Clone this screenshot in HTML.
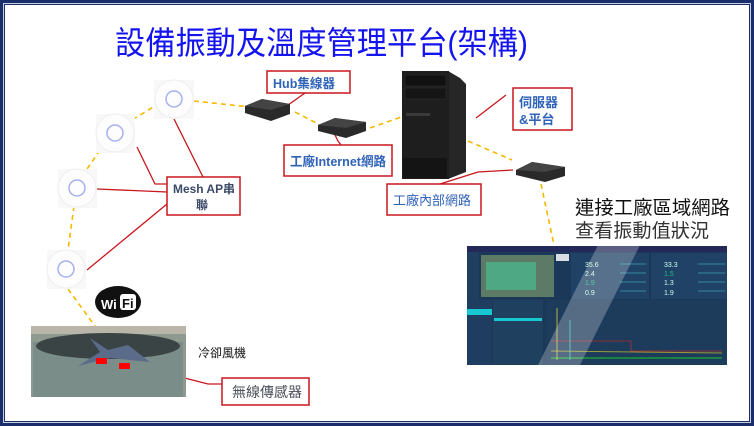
<!DOCTYPE html>
<html><head><meta charset="utf-8"><style>
html,body{margin:0;padding:0;background:#fff}
svg{display:block}
.t{font-family:"Liberation Sans","Noto Sans CJK TC",sans-serif}
</style></head><body>
<svg width="754" height="426" viewBox="0 0 754 426" xmlns="http://www.w3.org/2000/svg" class="t">
<rect x="0" y="0" width="754" height="426" fill="#1b2d6b"/>
<rect x="3" y="3" width="748" height="420" fill="#c8d0e0"/>
<rect x="4" y="4" width="746" height="418" fill="#1b2d6b"/>
<rect x="5" y="5" width="744" height="416" fill="#fff"/>

<text x="115" y="54" font-size="32" fill="#1414ee" textLength="413" lengthAdjust="spacingAndGlyphs">設備振動及溫度管理平台(架構)</text>

<!-- dashed orange lines -->
<g stroke="#f5b800" stroke-width="1.6" stroke-dasharray="5,4" fill="none">
<line x1="194" y1="101" x2="250" y2="107"/>
<line x1="160" y1="103" x2="130" y2="121"/>
<line x1="100" y1="150" x2="85" y2="172"/>
<line x1="74" y1="206" x2="68" y2="250"/>
<line x1="68" y1="289" x2="124" y2="366"/>
<line x1="295" y1="112" x2="322" y2="126"/>
<line x1="370" y1="128" x2="410" y2="114"/>
<line x1="468" y1="141" x2="512" y2="160"/>
<line x1="541" y1="184" x2="554" y2="245"/>
</g>

<!-- red connectors -->
<g stroke="#c8161d" stroke-width="1.3" fill="none">
<line x1="305" y1="93" x2="281" y2="110"/>
<polyline points="341,145 338,141 333,131"/>
<line x1="506" y1="95" x2="476" y2="118"/>
<polyline points="440,184 478,172 513,170"/>
<line x1="203" y1="177" x2="174" y2="119"/>
<polyline points="167,184 155,184 137,147"/>
<line x1="167" y1="192" x2="97" y2="189"/>
<line x1="167" y1="204" x2="87" y2="270"/>
<polyline points="130,364 208,384 222,384"/>
</g>

<!-- AP circles -->
<g>
<rect x="154" y="80" width="40" height="39" fill="#f8f8f8"/>
<circle cx="174" cy="99" r="19" fill="#fdfdfd" stroke="#eee"/>
<circle cx="174" cy="99" r="8" fill="none" stroke="#a6b0f0" stroke-width="1.5"/>
<rect x="96" y="114" width="39" height="39" fill="#f8f8f8"/>
<circle cx="115" cy="133" r="19" fill="#fdfdfd" stroke="#eee"/>
<circle cx="115" cy="133" r="8" fill="none" stroke="#a6b0f0" stroke-width="1.5"/>
<rect x="58" y="169" width="39" height="39" fill="#f8f8f8"/>
<circle cx="77" cy="188" r="19" fill="#fdfdfd" stroke="#eee"/>
<circle cx="77" cy="188" r="8" fill="none" stroke="#a6b0f0" stroke-width="1.5"/>
<rect x="47" y="250" width="39" height="39" fill="#f8f8f8"/>
<circle cx="66" cy="269" r="19" fill="#fdfdfd" stroke="#eee"/>
<circle cx="66" cy="269" r="8" fill="none" stroke="#a6b0f0" stroke-width="1.5"/>
</g>

<!-- switches -->
<g>
<polygon points="245,106 262,99 290,104 290,114 271,121 245,113" fill="#2a2a2a"/>
<polygon points="245,106 262,99 290,104 271,110" fill="#444"/>
<polygon points="318,125 335,118 366,122 366,131 346,138 318,131" fill="#2a2a2a"/>
<polygon points="318,125 335,118 366,122 346,128" fill="#444"/>
<polygon points="516,170 532,162 565,167 565,176 545,182 516,175" fill="#2a2a2a"/>
<polygon points="516,170 532,162 565,167 545,172" fill="#444"/>
</g>

<!-- server -->
<g>
<polygon points="448,71 460,78 466,84 466,172 448,179" fill="#262626"/>
<rect x="402" y="71" width="47" height="108" fill="#1e1e1e"/>
<rect x="405" y="75" width="41" height="11" fill="#111" stroke="#333" stroke-width="0.5"/>
<rect x="405" y="88" width="41" height="11" fill="#151515" stroke="#333" stroke-width="0.5"/>
<rect x="406" y="113" width="24" height="3" fill="#3a3a3a"/>
<rect x="403" y="158" width="44" height="20" fill="#141414"/>
</g>

<!-- wifi -->
<g>
<ellipse cx="118" cy="302" rx="23" ry="16" fill="#111"/>
<text x="101" y="309" font-size="13" font-weight="bold" fill="#fff">Wi</text>
<rect x="120" y="294" width="16" height="16" rx="3" fill="#fff"/>
<text x="122" y="308" font-size="13" font-weight="bold" fill="#111">Fi</text>
</g>

<!-- fan photo -->
<g>
<rect x="31" y="326" width="155" height="71" fill="#8e9a90"/>
<rect x="31" y="326" width="155" height="8" fill="#b9b5a8"/>
<rect x="33" y="342" width="150" height="55" fill="#7a8d88"/>
<ellipse cx="108" cy="346" rx="72" ry="13" fill="#3a4444"/>
<polygon points="90,338 108,350 128,345 150,362 110,358 78,366 100,352" fill="#5a6c8a"/>
<rect x="96" y="358" width="11" height="6" fill="#ff0000"/>
<rect x="119" y="363" width="11" height="6" fill="#ff0000"/>
</g>
<text x="198" y="357" font-size="12" fill="#111">冷卻風機</text>

<!-- boxes -->
<g fill="#fff" stroke="#c8161d" stroke-width="1.5">
<rect x="267" y="71" width="83" height="22"/>
<rect x="513" y="88" width="59" height="42"/>
<rect x="284" y="145" width="108" height="31"/>
<rect x="167" y="177" width="73" height="38"/>
<rect x="387" y="184" width="94" height="31"/>
<rect x="222" y="378" width="87" height="27"/>
</g>
<g font-weight="bold" fill="#2f63b8">
<text x="273" y="88" font-size="13" textLength="62" lengthAdjust="spacingAndGlyphs">Hub集線器</text>
<text x="519" y="107" font-size="13">伺服器</text>
<text x="519" y="124" font-size="13">&amp;平台</text>
<text x="290" y="166" font-size="13" textLength="96" lengthAdjust="spacingAndGlyphs">工廠Internet網路</text>
<text x="393" y="205" font-size="13" font-weight="normal" textLength="78" lengthAdjust="spacingAndGlyphs">工廠內部網路</text>
</g>
<text x="173" y="193" font-size="12" font-weight="bold" fill="#3b4a66" textLength="62" lengthAdjust="spacingAndGlyphs">Mesh AP串</text>
<text x="196" y="209" font-size="12" font-weight="bold" fill="#3b4a66">聯</text>
<text x="232" y="397" font-size="14" fill="#4a4f5a">無線傳感器</text>

<text x="575" y="214" font-size="19" fill="#111" textLength="155" lengthAdjust="spacingAndGlyphs">連接工廠區域網路</text>
<text x="575" y="237" font-size="19" fill="#333" textLength="134" lengthAdjust="spacingAndGlyphs">查看振動值狀況</text>

<!-- dashboard -->
<g>
<rect x="467" y="246" width="260" height="119" fill="#1c3858"/>
<rect x="467" y="246" width="260" height="6" fill="#232a5a"/>
<rect x="467" y="252" width="12" height="48" fill="#203e60"/>
<rect x="481" y="255" width="73" height="42" fill="#5c7a66"/>
<rect x="486" y="262" width="50" height="28" fill="#4ea884"/>
<rect x="556" y="254" width="13" height="7" fill="#d8dde3"/>
<rect x="571" y="253" width="78" height="46" fill="#1f4266"/>
<rect x="651" y="253" width="76" height="46" fill="#1f4266"/>
<g font-size="7" fill="#cfe">
<text x="585" y="267">35.6</text><text x="585" y="276">2.4</text><text x="585" y="285" fill="#2b8">1.9</text><text x="585" y="295">0.9</text>
<text x="664" y="267">33.3</text><text x="664" y="276" fill="#2b8">1.5</text><text x="664" y="285">1.3</text><text x="664" y="295">1.9</text>
</g>
<g stroke="#3fa5b5" stroke-width="0.7">
<line x1="620" y1="264" x2="646" y2="264"/><line x1="620" y1="273" x2="646" y2="273"/><line x1="620" y1="282" x2="646" y2="282"/><line x1="620" y1="291" x2="646" y2="291"/>
<line x1="698" y1="264" x2="725" y2="264"/><line x1="698" y1="273" x2="725" y2="273"/><line x1="698" y1="282" x2="725" y2="282"/><line x1="698" y1="291" x2="725" y2="291"/>
</g>
<rect x="467" y="300" width="25" height="65" fill="#1f3d60"/>
<rect x="467" y="309" width="25" height="6" fill="#17c8d0"/>
<rect x="493" y="300" width="50" height="65" fill="#20405f"/>
<rect x="494" y="318" width="48" height="3" fill="#17c8d0"/>
<rect x="546" y="300" width="181" height="65" fill="#1d3b5b"/>
<polyline points="551,341 631,341 631,351 722,351" fill="none" stroke="#b0302e" stroke-width="0.8"/>
<line x1="551" y1="351" x2="722" y2="353" stroke="#9a9a3a" stroke-width="1"/>
<line x1="551" y1="358" x2="722" y2="358" stroke="#1a9a3a" stroke-width="1.5"/>
<line x1="557" y1="308" x2="557" y2="360" stroke="#dcd040" stroke-width="0.8"/>
<line x1="570" y1="320" x2="570" y2="360" stroke="#3cc" stroke-width="0.8"/>
<polygon points="598,245 640,245 580,365 538,365" fill="#fff" opacity="0.25"/>
</g>
</svg>
</body></html>
